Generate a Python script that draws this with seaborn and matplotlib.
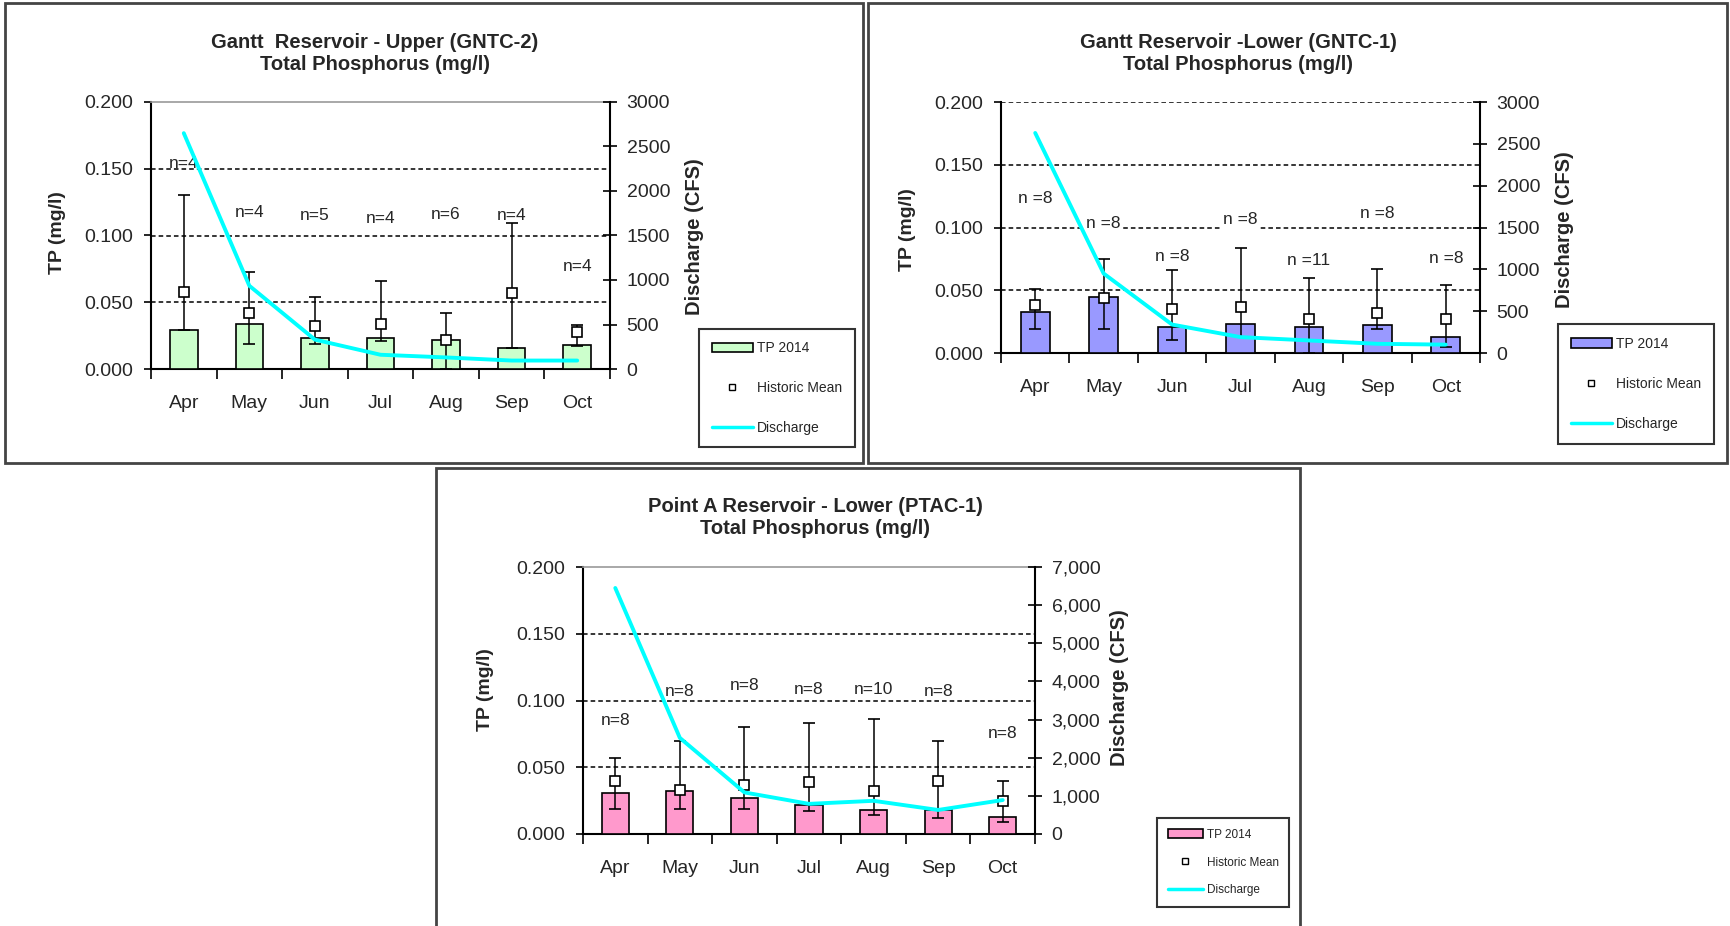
import numpy as np
import matplotlib
matplotlib.use("Agg")
import matplotlib.pyplot as plt
import seaborn as sns
from matplotlib.patches import Rectangle, Patch
from matplotlib.lines import Line2D
from matplotlib.ticker import MultipleLocator, FixedLocator, StrMethodFormatter

sns.set_theme(style="white")
NARROW = ['Liberation Sans Narrow', 'Liberation Sans', 'DejaVu Sans']
WIDE = ['Liberation Sans', 'DejaVu Sans']
plt.rcParams['font.family'] = NARROW

months = ["Apr", "May", "Jun", "Jul", "Aug", "Sep", "Oct"]

# Gantt Reservoir - Upper (GNTC-2)
up_tp = [0.029, 0.034, 0.023, 0.023, 0.022, 0.016, 0.018]
up_mean = [0.058, 0.042, 0.032, 0.034, 0.022, 0.057, 0.028]
up_hi = [0.130, 0.073, 0.054, 0.066, 0.042, 0.109, 0.033]
up_lo = [0.029, 0.019, 0.019, 0.021, 0.000, 0.016, 0.017]
up_flow = [2650, 935, 330, 160, 130, 95, 95]
up_n = ["n=4", "n=4", "n=5", "n=4", "n=6", "n=4", "n=4"]
up_n_y = [0.154, 0.117, 0.115, 0.113, 0.116, 0.115, 0.077]

# Gantt Reservoir - Lower (GNTC-1)
lo_tp = [0.033, 0.045, 0.021, 0.023, 0.021, 0.022, 0.013]
lo_mean = [0.038, 0.044, 0.035, 0.037, 0.027, 0.032, 0.027]
lo_hi = [0.051, 0.075, 0.066, 0.084, 0.060, 0.067, 0.054]
lo_lo = [0.019, 0.019, 0.010, 0.013, 0.000, 0.019, 0.005]
lo_flow = [2630, 950, 340, 190, 150, 110, 100]
lo_n = ["n =8", "n =8", "n =8", "n =8", "n =11", "n =8", "n =8"]
lo_n_y = [0.123, 0.103, 0.077, 0.106, 0.074, 0.111, 0.0755]

# Point A Reservoir - Lower (PTAC-1)
pa_tp = [0.031, 0.032, 0.027, 0.022, 0.018, 0.018, 0.013]
pa_mean = [0.040, 0.033, 0.037, 0.039, 0.032, 0.040, 0.025]
pa_hi = [0.057, 0.070, 0.080, 0.083, 0.086, 0.070, 0.040]
pa_lo = [0.019, 0.019, 0.019, 0.017, 0.014, 0.012, 0.009]
pa_flow = [6450, 2520, 1090, 790, 870, 630, 890]
pa_n = ["n=8", "n=8", "n=8", "n=8", "n=10", "n=8", "n=8"]
pa_n_y = [0.085, 0.107, 0.111, 0.1085, 0.108, 0.1065, 0.075]

W, H = 1730, 926
fig = plt.figure(figsize=(W / 100, H / 100), dpi=100)
fig.patch.set_facecolor("white")


def px_rect(l, t, r, b):
    return [l / W, 1 - b / H, (r - l) / W, (b - t) / H]


def panel(rect, tp, mean, lo, hi, flow, nlab, ny, color, fmax, fstep, ffmt,
          title, title_xy, leg_xy, leg_fs, leg_ls, ylab_xy, rlab_xy,
          top_dashed=False, label_box=False):
    ax = fig.add_axes(px_rect(*rect))
    sns.barplot(x=months, y=tp, color=color, saturation=1, edgecolor="black",
                linewidth=1.2, width=0.42, ax=ax, zorder=3)
    x = np.arange(len(months))
    mean = np.array(mean)
    ax.errorbar(x, mean, yerr=[mean - np.array(lo), np.array(hi) - mean],
                fmt="s", ms=7.5, mfc="white", mec="black", mew=1.2,
                ecolor="black", elinewidth=1.1, capsize=4, capthick=1.1, zorder=5)
    grid_vals = [0.05, 0.10, 0.15] + ([0.20] if top_dashed else [])
    for g in grid_vals:
        ax.axhline(g, color="black", lw=1.1, ls=(0, (3, 2)), zorder=1)
    for i, (t, yv) in enumerate(zip(nlab, ny)):
        kw = dict(bbox=dict(facecolor="white", edgecolor="none", pad=1)) if label_box else {}
        ax.text(i, yv, t, ha="center", va="center", fontsize=12.5, zorder=6, **kw)

    ax.set_ylim(0, 0.2)
    ax.yaxis.set_major_locator(MultipleLocator(0.05))
    ax.yaxis.set_major_formatter(StrMethodFormatter("{x:.3f}"))
    ax.set_xticks(x)
    ax.set_xticklabels(months)
    ax.xaxis.set_minor_locator(FixedLocator(np.arange(-0.5, 7, 1)))
    ax.tick_params(axis="x", which="major", length=0, pad=19, labelsize=14, bottom=True)
    ax.tick_params(axis="x", which="minor", length=7, width=1.2, direction="out",
                   bottom=True, color="black")
    ax.tick_params(axis="y", length=5, width=1.2, direction="out", pad=8,
                   labelsize=14, left=True, color="black")
    ax.set_xlabel("")
    ax.set_ylabel("TP (mg/l)", fontsize=14, fontweight="bold", family=WIDE)
    ax.yaxis.set_label_coords(*ylab_xy)
    for s in ["left", "bottom"]:
        ax.spines[s].set_color("black")
        ax.spines[s].set_linewidth(1.5)
    ax.spines["right"].set_visible(False)
    if top_dashed:
        ax.spines["top"].set_visible(False)
    else:
        ax.spines["top"].set_color("#9a9a9a")
        ax.spines["top"].set_linewidth(1.2)

    ax2 = ax.twinx()
    sns.lineplot(x=x, y=flow, color="#00FFFF", lw=2.8, ax=ax2, zorder=4)
    ax2.set_ylim(0, fmax)
    ax2.yaxis.set_major_locator(MultipleLocator(fstep))
    ax2.yaxis.set_major_formatter(StrMethodFormatter(ffmt))
    ax2.tick_params(axis="y", length=10, width=1.2, direction="inout", pad=7,
                    labelsize=14, right=True, color="black")
    for s in ["left", "top", "bottom"]:
        ax2.spines[s].set_visible(False)
    ax2.spines["right"].set_color("black")
    ax2.spines["right"].set_linewidth(1.5)
    ax2.set_ylabel("Discharge (CFS)", fontsize=14.5, fontweight="bold", family=WIDE)
    ax2.yaxis.set_label_coords(*rlab_xy)
    ax.set_xlim(-0.5, 6.5)

    fig.text(title_xy[0] / W, 1 - title_xy[1] / H, title, ha="center", va="center",
             fontsize=14.5, fontweight="bold", linespacing=1.2)

    handles = [Patch(facecolor=color, edgecolor="black", lw=1.2),
               Line2D([], [], marker="s", ls="none", mfc="white", mec="black", ms=5),
               Line2D([], [], color="#00FFFF", lw=2.5)]
    leg = fig.legend(handles, ["TP 2014", "Historic Mean", "Discharge"],
                     loc="upper left", bbox_to_anchor=(leg_xy[0] / W, 1 - leg_xy[1] / H),
                     bbox_transform=fig.transFigure, frameon=True, fancybox=False,
                     edgecolor="black", fontsize=leg_fs, labelspacing=leg_ls,
                     handlelength=3.0, handletextpad=0.3, borderpad=0.9,
                     borderaxespad=0)
    leg.get_frame().set_linewidth(1.5)
    return ax, ax2


panel((151, 102, 610, 369), up_tp, up_mean, up_lo, up_hi, up_flow, up_n, up_n_y,
      "#CCFFCC", 3000, 500, "{x:.0f}",
      "Gantt  Reservoir - Upper (GNTC-2)\nTotal Phosphorus (mg/l)", (375, 53.5),
      (699, 329), 10, 1.85, (-0.186, 0.51), (1.163, 0.494))

panel((1001, 102, 1480, 353), lo_tp, lo_mean, lo_lo, lo_hi, lo_flow, lo_n, lo_n_y,
      "#9999FF", 3000, 500, "{x:.0f}",
      "Gantt Reservoir -Lower (GNTC-1)\nTotal Phosphorus (mg/l)", (1238, 53.5),
      (1558, 324), 10, 1.9, (-0.177, 0.49), (1.156, 0.49),
      top_dashed=True, label_box=True)

panel((583, 567, 1035, 834), pa_tp, pa_mean, pa_lo, pa_hi, pa_flow, pa_n, pa_n_y,
      "#FF99CC", 7000, 1000, "{x:,.0f}",
      "Point A Reservoir - Lower (PTAC-1)\nTotal Phosphorus (mg/l)", (815, 517.5),
      (1157, 818), 8.5, 1.35, (-0.196, 0.54), (1.166, 0.55))

# panel frames
for l, t, r, b in [(5, 3, 863, 463), (868, 3, 1727, 463), (436, 468, 1300, 940)]:
    fig.add_artist(Rectangle((l / W, 1 - b / H), (r - l) / W, (b - t) / H,
                             transform=fig.transFigure, fill=False,
                             edgecolor="#444444", lw=2))

fig.savefig("out.png", dpi=100)
